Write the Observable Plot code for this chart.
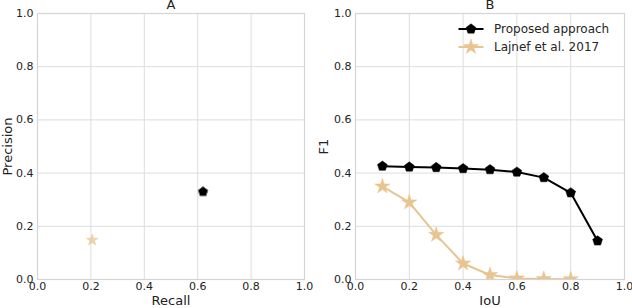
<!DOCTYPE html>
<html><head><meta charset="utf-8">
<script src="https://cdn.jsdelivr.net/npm/d3@7"></script>
<script src="https://cdn.jsdelivr.net/npm/@observablehq/plot@0.6"></script>
<style>
body{margin:0;background:#fff;font-family:"DejaVu Sans",sans-serif;}
#wrap{position:relative;width:632px;height:308px;display:flex;}
#legend{position:absolute;left:458px;top:20px;font-size:12px;color:#262626;font-family:"DejaVu Sans",sans-serif;}
#legend .row{display:flex;align-items:center;height:17.7px;}
#legend svg{margin-right:10px;}
</style></head><body><div id="wrap"><div id="legend"></div></div>
<script>
// Panel A: precision / recall
const seriesNames = ["Proposed approach", "Lajnef et al. 2017"];
const recallA = [0.62, 0.205];
const precisionA = [0.33, 0.148];
// Panel B: F1 vs IoU
const iouProposed = [0.1, 0.2, 0.3, 0.4, 0.5, 0.6, 0.7, 0.8, 0.9];
const f1Proposed = [0.426, 0.423, 0.421, 0.417, 0.413, 0.404, 0.383, 0.326, 0.145];
const iouLajnef = [0.1, 0.2, 0.3, 0.4, 0.5, 0.6, 0.7, 0.8];
const f1Lajnef = [0.350, 0.290, 0.168, 0.060, 0.017, 0.004, 0.002, 0.001];
const ticks = [0, 0.2, 0.4, 0.6, 0.8, 1.0];
const tickLabels = ["0.0", "0.2", "0.4", "0.6", "0.8", "1.0"];

const BLACK = "#000000", TAN = "#e8c490";
const GRID = "#dddddd", FRAME = "#d4d4d4", TEXT = "#222222";

const pentagon = {
  draw(ctx, size) {
    const r = Math.sqrt(size / Math.PI) * 1.12;
    for (let i = 0; i < 5; i++) {
      const a = -Math.PI / 2 + i * 2 * Math.PI / 5;
      const x = r * Math.cos(a), y = r * Math.sin(a);
      i ? ctx.lineTo(x, y) : ctx.moveTo(x, y);
    }
    ctx.closePath();
  }
};

const fmt = d => tickLabels[ticks.findIndex(t => Math.abs(t - d) < 1e-9)];

function base(marginLeft, marginRight, xLabel, yLabel, title, ylabDx) {
  return {
    marginLeft, marginRight, marginTop: 13, marginBottom: 29,
    common: [
      Plot.gridX(ticks, {stroke: GRID, strokeOpacity: 1, strokeWidth: 1}),
      Plot.gridY(ticks, {stroke: GRID, strokeOpacity: 1, strokeWidth: 1}),
      Plot.frame({stroke: FRAME, strokeWidth: 1.2}),
      Plot.axisX(ticks, {tickSize: 0, tickPadding: 3, tickFormat: fmt, label: null, fontSize: 11, fill: TEXT}),
      Plot.axisY(ticks, {tickSize: 0, tickPadding: 4, tickFormat: fmt, label: null, fontSize: 11, fill: TEXT}),
      Plot.text([xLabel], {frameAnchor: "bottom", dy: 21.5, lineAnchor: "middle", fontSize: 13, fill: TEXT}),
      Plot.text([yLabel], {frameAnchor: "left", rotate: -90, dx: ylabDx, textAnchor: "middle", lineAnchor: "middle", fontSize: 13, fill: TEXT}),
      Plot.text([title], {frameAnchor: "top", dy: -8.5, lineAnchor: "middle", fontSize: 13, fill: TEXT})
    ]
  };
}

const wrap = document.getElementById("wrap");

// Panel A
const a = base(37, 12, "Recall", "Precision", "A", -29.5);
const chartA = Plot.plot({
  width: 316, height: 308,
  marginLeft: a.marginLeft, marginRight: a.marginRight, marginTop: a.marginTop, marginBottom: a.marginBottom,
  style: {fontFamily: "DejaVu Sans", fontSize: "11px", color: TEXT, background: "transparent", overflow: "visible"},
  x: {domain: [0, 1]}, y: {domain: [0, 1]},
  marks: [
    ...a.common,
    Plot.dot([1], {x: i => recallA[i], y: i => precisionA[i], symbol: "star", r: 3.6, fill: TAN, fillOpacity: 0.75, stroke: TAN, strokeWidth: 0.8, strokeOpacity: 0.6}),
    Plot.dot([0], {x: i => recallA[i], y: i => precisionA[i], symbol: pentagon, r: 4.6, fill: BLACK, stroke: "#777", strokeWidth: 1})
  ]
});
wrap.appendChild(chartA);

// Panel B
const b = base(39, 8, "IoU", "F1", "B", -31.7);
const chartB = Plot.plot({
  width: 316, height: 308,
  marginLeft: b.marginLeft, marginRight: b.marginRight, marginTop: b.marginTop, marginBottom: b.marginBottom,
  style: {fontFamily: "DejaVu Sans", fontSize: "11px", color: TEXT, background: "transparent", overflow: "visible"},
  x: {domain: [0, 1]}, y: {domain: [0, 1]},
  marks: [
    ...b.common,
    Plot.line(iouLajnef, {x: d => d, y: (d, i) => f1Lajnef[i], stroke: TAN, strokeWidth: 2, clip: true}),
    Plot.dot(iouLajnef, {x: d => d, y: (d, i) => f1Lajnef[i], symbol: "star", r: 4.8, fill: TAN, stroke: TAN, strokeWidth: 0.5, clip: true}),
    Plot.line(iouProposed, {x: d => d, y: (d, i) => f1Proposed[i], stroke: BLACK, strokeWidth: 2}),
    Plot.dot(iouProposed, {x: d => d, y: (d, i) => f1Proposed[i], symbol: pentagon, r: 4.6, fill: BLACK, stroke: BLACK, strokeWidth: 0.5})
  ]
});
wrap.appendChild(chartB);

// Legend
const legend = document.getElementById("legend");
const pentPath = (() => { const p = d3.path(); pentagon.draw(p, 4.6 * 4.6 * Math.PI); return p.toString(); })();
const starPath = d3.symbol(d3.symbolStar, 4.8 * 4.8 * Math.PI)();
[[seriesNames[0], BLACK, pentPath], [seriesNames[1], TAN, starPath]].forEach(([name, col, path]) => {
  const row = document.createElement("div");
  row.className = "row";
  row.innerHTML = `<svg width="26" height="14" viewBox="-13 -7 26 14" style="overflow:visible"><line x1="-12.5" x2="12.5" y1="0" y2="0" stroke="${col}" stroke-width="2"/><path d="${path}" fill="${col}" stroke="${col}" stroke-width="0.5"/></svg><span>${name}</span>`;
  legend.appendChild(row);
});
</script>
</body></html>
